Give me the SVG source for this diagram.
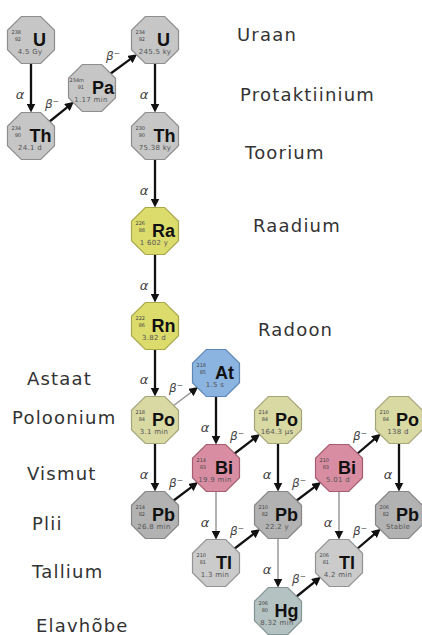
<svg xmlns="http://www.w3.org/2000/svg" xmlns:xlink="http://www.w3.org/1999/xlink" width="422" height="635" viewBox="0 0 422 635">
<style>
.gr{fill:#c6c6c6;stroke:#8e8e8e;stroke-width:1.2}
.pb{fill:#b2b2b2;stroke:#858585;stroke-width:1.2}
.tl{fill:#cbcbcb;stroke:#939393;stroke-width:1.2}
.hg{fill:#b4c2c2;stroke:#849393;stroke-width:1.2}
.ra{fill:#dcdc6c;stroke:#a8a84a;stroke-width:1.2}
.po{fill:#d9d9a4;stroke:#a5a57a;stroke-width:1.2}
.at{fill:#8cb4e0;stroke:#5f86b4;stroke-width:1.2}
.bi{fill:#d98da3;stroke:#a65d72;stroke-width:1.2}
.m{font-family:"DejaVu Sans",sans-serif;font-size:5px;fill:#444;text-anchor:end}
.s{font-family:"Liberation Sans",Arial,sans-serif;font-weight:bold;font-size:18px;fill:#111;text-anchor:middle}
.h{font-family:"DejaVu Sans",sans-serif;font-size:7px;fill:#555;text-anchor:middle;letter-spacing:0.3px}
.lab{font-family:"DejaVu Sans",sans-serif;font-size:18px;fill:#333;letter-spacing:1.2px}
.al{font-family:"DejaVu Sans",sans-serif;font-style:italic;font-size:13px;fill:#444;text-anchor:middle}
.bl{font-family:"DejaVu Sans",sans-serif;font-style:italic;font-size:12px;fill:#444}
.a{stroke:#111;stroke-width:2.3;fill:none;marker-end:url(#ah)}
.ag{stroke:#9a9a9a;stroke-width:1.5;fill:none;marker-end:url(#ah)}
</style>
<defs>
<polygon id="oct" points="-9.7,-23.5 9.7,-23.5 23.5,-9.7 23.5,9.7 9.7,23.5 -9.7,23.5 -23.5,9.7 -23.5,-9.7"/>
<marker id="ah" viewBox="0 0 9 9" refX="1" refY="4.5" markerWidth="9" markerHeight="9" markerUnits="userSpaceOnUse" orient="auto">
<path d="M0,0 L9,4.5 L0,9 z" fill="#111"/>
</marker>
</defs>
<rect width="422" height="635" fill="#fff"/>

<g id="connectors">
<line class="a" x1="31" y1="63.5" x2="31" y2="104.5"/>
<line class="a" x1="155" y1="63.5" x2="155" y2="104.5"/>
<line class="a" x1="155" y1="159.5" x2="155" y2="199.5"/>
<line class="a" x1="155" y1="254.5" x2="155" y2="294.5"/>
<line class="a" x1="155" y1="349.5" x2="155" y2="388.5"/>
<line class="a" x1="216" y1="396.5" x2="216" y2="436.5"/>
<line class="a" x1="155" y1="443.5" x2="155" y2="483.5"/>
<line class="ag" x1="216" y1="491.5" x2="216" y2="531.5"/>
<line class="a" x1="278" y1="443.5" x2="278" y2="483.5"/>
<line class="ag" x1="278" y1="538.5" x2="278" y2="579.5"/>
<line class="ag" x1="339" y1="491.5" x2="339" y2="531.5"/>
<line class="a" x1="399" y1="443.5" x2="399" y2="483.5"/>

<line class="a" x1="49" y1="122" x2="67.7" y2="106.9"/>
<line class="a" x1="110" y1="74" x2="130.7" y2="58.9"/>
<line class="ag" x1="173" y1="406" x2="191.7" y2="391.9"/>
<line class="a" x1="173" y1="501" x2="191.7" y2="486.9"/>
<line class="a" x1="234" y1="454" x2="253.7" y2="438.9"/>
<line class="a" x1="234" y1="549" x2="253.7" y2="533.9"/>
<line class="a" x1="296" y1="501" x2="314.7" y2="486.9"/>
<line class="a" x1="296" y1="597" x2="314.7" y2="581.9"/>
<line class="a" x1="357" y1="454" x2="374.7" y2="438.9"/>
<line class="a" x1="357" y1="549" x2="374.7" y2="533.9"/>

<text class="al" x="20" y="99">α</text>
<text class="al" x="144" y="99">α</text>
<text class="al" x="144" y="194.5">α</text>
<text class="al" x="144" y="289.5">α</text>
<text class="al" x="144" y="384">α</text>
<text class="al" x="205" y="432">α</text>
<text class="al" x="144" y="479">α</text>
<text class="al" x="205" y="526.5">α</text>
<text class="al" x="267" y="479">α</text>
<text class="al" x="267" y="574">α</text>
<text class="al" x="328" y="526.5">α</text>
<text class="al" x="388" y="479">α</text>

<text class="bl" x="45" y="108">β⁻</text>
<text class="bl" x="106" y="60">β⁻</text>
<text class="bl" x="169" y="392">β⁻</text>
<text class="bl" x="169" y="487">β⁻</text>
<text class="bl" x="230" y="440">β⁻</text>
<text class="bl" x="230" y="535">β⁻</text>
<text class="bl" x="292" y="487">β⁻</text>
<text class="bl" x="292" y="583">β⁻</text>
<text class="bl" x="353" y="440">β⁻</text>
<text class="bl" x="353" y="535">β⁻</text>
</g>

<g id="U238" transform="translate(31,40)"><use href="#oct" class="gr"/><text class="m" x="-10" y="-6">238</text><text class="m" x="-10" y="1">92</text><text class="s" x="8.5" y="5.5">U</text><text class="h" x="-1" y="14">4.5 Gy</text></g>
<g id="Th234" transform="translate(31,136)"><use href="#oct" class="gr"/><text class="m" x="-10" y="-6">234</text><text class="m" x="-10" y="1">90</text><text class="s" x="9.5" y="5.5">Th</text><text class="h" x="-1" y="14">24.1 d</text></g>
<g id="Pa234m" transform="translate(92,88)"><use href="#oct" class="gr"/><text class="m" x="-8" y="-6">234m</text><text class="m" x="-8" y="1">91</text><text class="s" x="11" y="5.5">Pa</text><text class="h" x="-1" y="14">1.17 min</text></g>
<g id="U234" transform="translate(155,40)"><use href="#oct" class="gr"/><text class="m" x="-10" y="-6">234</text><text class="m" x="-10" y="1">92</text><text class="s" x="8.5" y="5.5">U</text><text class="h" x="0" y="14">245.5 ky</text></g>
<g id="Th230" transform="translate(155,136)"><use href="#oct" class="gr"/><text class="m" x="-10" y="-6">230</text><text class="m" x="-10" y="1">90</text><text class="s" x="9.5" y="5.5">Th</text><text class="h" x="0" y="14">75.38 ky</text></g>
<g id="Ra226" transform="translate(155,231)"><use href="#oct" class="ra"/><text class="m" x="-10" y="-6">226</text><text class="m" x="-10" y="1">88</text><text class="s" x="8.5" y="5.5">Ra</text><text class="h" x="-1" y="14">1 602 y</text></g>
<g id="Rn222" transform="translate(155,326)"><use href="#oct" class="ra"/><text class="m" x="-10" y="-6">222</text><text class="m" x="-10" y="1">86</text><text class="s" x="8.5" y="5.5">Rn</text><text class="h" x="-1" y="14">3.82 d</text></g>
<g id="At218" transform="translate(216,373)"><use href="#oct" class="at"/><text class="m" x="-10" y="-6">218</text><text class="m" x="-10" y="1">85</text><text class="s" x="8.5" y="5.5">At</text><text class="h" x="-1" y="14">1.5 s</text></g>
<g id="Po218" transform="translate(155,420)"><use href="#oct" class="po"/><text class="m" x="-10" y="-6">218</text><text class="m" x="-10" y="1">84</text><text class="s" x="8.5" y="5.5">Po</text><text class="h" x="-1" y="14">3.1 min</text></g>
<g id="Bi214" transform="translate(216,468)"><use href="#oct" class="bi"/><text class="m" x="-10" y="-6">214</text><text class="m" x="-10" y="1">83</text><text class="s" x="8" y="5.5">Bi</text><text class="h" x="-1" y="14">19.9 min</text></g>
<g id="Po214" transform="translate(278,420)"><use href="#oct" class="po"/><text class="m" x="-10" y="-6">214</text><text class="m" x="-10" y="1">84</text><text class="s" x="8.5" y="5.5">Po</text><text class="h" x="-1" y="14">164.3 μs</text></g>
<g id="Pb214" transform="translate(155,515)"><use href="#oct" class="pb"/><text class="m" x="-10" y="-6">214</text><text class="m" x="-10" y="1">82</text><text class="s" x="8.5" y="5.5">Pb</text><text class="h" x="-1" y="14">26.8 min</text></g>
<g id="Pb210" transform="translate(278,515)"><use href="#oct" class="pb"/><text class="m" x="-10" y="-6">210</text><text class="m" x="-10" y="1">82</text><text class="s" x="8.5" y="5.5">Pb</text><text class="h" x="-1" y="14">22.2 y</text></g>
<g id="Tl210" transform="translate(216,563)"><use href="#oct" class="tl"/><text class="m" x="-10" y="-6">210</text><text class="m" x="-10" y="1">81</text><text class="s" x="8" y="5.5">Tl</text><text class="h" x="-1" y="14">1.3 min</text></g>
<g id="Hg206" transform="translate(278,611)"><use href="#oct" class="hg"/><text class="m" x="-10" y="-6">206</text><text class="m" x="-10" y="1">80</text><text class="s" x="8.5" y="5.5">Hg</text><text class="h" x="-1" y="14">8.32 min</text></g>
<g id="Bi210" transform="translate(339,468)"><use href="#oct" class="bi"/><text class="m" x="-10" y="-6">210</text><text class="m" x="-10" y="1">83</text><text class="s" x="8" y="5.5">Bi</text><text class="h" x="-1" y="14">5.01 d</text></g>
<g id="Po210" transform="translate(399,420)"><use href="#oct" class="po"/><text class="m" x="-10" y="-6">210</text><text class="m" x="-10" y="1">84</text><text class="s" x="8.5" y="5.5">Po</text><text class="h" x="-1" y="14">138 d</text></g>
<g id="Tl206" transform="translate(339,563)"><use href="#oct" class="tl"/><text class="m" x="-10" y="-6">206</text><text class="m" x="-10" y="1">81</text><text class="s" x="8" y="5.5">Tl</text><text class="h" x="-1" y="14">4.2 min</text></g>
<g id="Pb206" transform="translate(399,515)"><use href="#oct" class="pb"/><text class="m" x="-10" y="-6">206</text><text class="m" x="-10" y="1">82</text><text class="s" x="8.5" y="5.5">Pb</text><text class="h" x="-1" y="14">Stable</text></g>

<g id="labels">
<text class="lab" x="237" y="41">Uraan</text>
<text class="lab" x="240" y="101">Protaktiinium</text>
<text class="lab" x="245" y="159">Toorium</text>
<text class="lab" x="253" y="232">Raadium</text>
<text class="lab" x="258" y="336">Radoon</text>
<text class="lab" x="27" y="385">Astaat</text>
<text class="lab" x="12" y="424">Poloonium</text>
<text class="lab" x="27" y="480">Vismut</text>
<text class="lab" x="32" y="530">Plii</text>
<text class="lab" x="32" y="578">Tallium</text>
<text class="lab" x="36" y="632">Elavhõbe</text>
</g>
</svg>
